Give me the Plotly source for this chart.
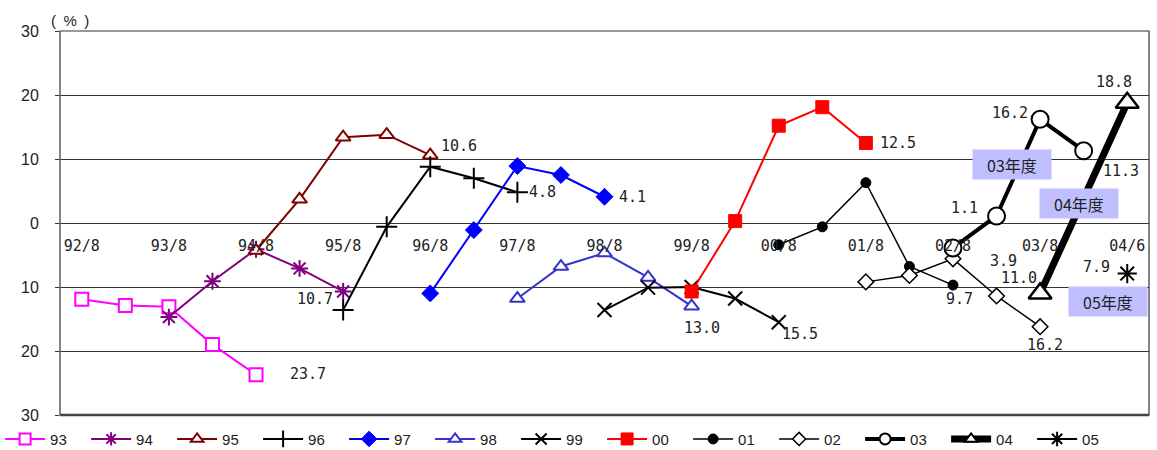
import plotly.graph_objects as go

# half-year periods on the x axis (tick labels every other period)
periods = ["92/8", "93/2", "93/8", "94/2", "94/8", "95/2", "95/8", "96/2", "96/8",
           "97/2", "97/8", "98/2", "98/8", "99/2", "99/8", "00/2", "00/8", "01/2",
           "01/8", "02/2", "02/8", "03/2", "03/8", "04/2", "04/6"]
tick_labels = periods[::2]
y_tick_vals = [-30, -20, -10, 0, 10, 20, 30]
y_tick_text = ["30", "20", "10", "0", "10", "20", "30"]

x93 = ["92/8", "93/2", "93/8", "94/2", "94/8"]
v93 = [-11.9, -12.9, -13.1, -19.0, -23.7]
x94 = ["93/8", "94/2", "94/8", "95/2", "95/8"]
v94 = [-14.7, -9.1, -4.1, -7.1, -10.7]
x95 = ["94/8", "95/2", "95/8", "96/2", "96/8"]
v95 = [-4.3, 3.7, 13.4, 13.8, 10.6]
x96 = ["95/8", "96/2", "96/8", "97/2", "97/8"]
v96 = [-13.6, -0.6, 8.8, 7.0, 4.8]
x97 = ["96/8", "97/2", "97/8", "98/2", "98/8"]
v97 = [-11.0, -1.1, 8.9, 7.5, 4.1]
x98 = ["97/8", "98/2", "98/8", "99/2", "99/8"]
v98 = [-11.8, -6.8, -4.7, -8.5, -13.0]
x99 = ["98/8", "99/2", "99/8", "00/2", "00/8"]
v99 = [-13.6, -10.1, -10.0, -11.8, -15.5]
x00 = ["99/8", "00/2", "00/8", "01/2", "01/8"]
v00 = [-10.7, 0.3, 15.2, 18.1, 12.5]
x01 = ["00/8", "01/2", "01/8", "02/2", "02/8"]
v01 = [-3.4, -0.6, 6.3, -6.8, -9.7]
x02 = ["01/8", "02/2", "02/8", "03/2", "03/8"]
v02 = [-9.2, -8.2, -5.6, -11.4, -16.2]
x03 = ["02/8", "03/2", "03/8", "04/2"]
v03 = [-3.9, 1.1, 16.2, 11.3]
x04 = ["03/8", "04/6"]
v04 = [-11.0, 18.8]
x05 = ["04/6"]
v05 = [-7.9]

year_boxes = ["03年度", "04年度", "05年度"]

idx = {p: i for i, p in enumerate(periods)}

fig = go.Figure()

def add(name, xs, vs, color, lw, symbol, size, fill, mlw, lsize):
    fig.add_trace(go.Scatter(
        x=[idx[p] for p in xs], y=vs, name=name, mode="lines+markers",
        line=dict(color=color, width=lw), showlegend=False,
        marker=dict(symbol=symbol, size=size, color=fill,
                    line=dict(color=color, width=mlw)),
        hoverinfo="skip"))
    # legend entry with smaller marker
    fig.add_trace(go.Scatter(
        x=[None], y=[None], name=name, mode="lines+markers",
        line=dict(color=color, width=lw),
        marker=dict(symbol=symbol, size=lsize, color=fill,
                    line=dict(color=color, width=min(mlw, 2))),
        hoverinfo="skip"))

add("93", x93, v93, "#FF00FF", 2, "square", 13, "white", 2, 11)
add("94", x94, v94, "#800080", 2, "asterisk-open", 14, "#800080", 2, 11)
add("95", x95, v95, "#800000", 2, "triangle-up", 13, "white", 2, 11)
add("96", x96, v96, "#000000", 2, "cross-thin-open", 15, "#000000", 2, 12)
add("97", x97, v97, "#0000FF", 2, "diamond", 13, "#0000FF", 1, 12)
add("98", x98, v98, "#3333CC", 2, "triangle-up", 13, "white", 2, 11)
add("99", x99, v99, "#000000", 2, "x-thin-open", 14, "#000000", 2, 11)
add("00", x00, v00, "#FF0000", 2, "square", 13, "#FF0000", 1, 12)
add("01", x01, v01, "#000000", 1.5, "circle", 10, "#000000", 1, 10)
add("02", x02, v02, "#000000", 1.5, "diamond", 12, "white", 1.5, 10)
add("03", x03, v03, "#000000", 4, "circle", 17, "white", 2, 11)
add("04", x04, v04, "#000000", 7, "triangle-up", 20, "white", 2.5, 11)
add("05", x05, v05, "#000000", 2, "asterisk-open", 16, "#000000", 2, 12)

lab_font = dict(family="DejaVu Sans Mono", size=15, color="#222222")

def lab(xs, vs, i, dx, dy):
    fig.add_annotation(x=idx[xs[i]], y=vs[i], text=f"{abs(vs[i]):.1f}",
                       showarrow=False, xshift=dx, yshift=dy, font=lab_font)

lab(x93, v93, 4, 52, 1)
lab(x94, v94, 4, -28, -8)
lab(x95, v95, 4, 29, 9)
lab(x96, v96, 4, 25, 0)
lab(x97, v97, 4, 28, 0)
lab(x98, v98, 4, 10, -22)
lab(x99, v99, 4, 21, -12)
lab(x00, v00, 4, 32, 0)
lab(x01, v01, 4, 7, -14)
lab(x02, v02, 4, 5, -18)
lab(x03, v03, 0, 51, -13)
lab(x03, v03, 1, -32, 8)
lab(x03, v03, 2, -30, 6)
lab(x03, v03, 3, 37, -20)
lab(x04, v04, 0, -21, 15)
lab(x04, v04, 1, -13, 21)
lab(x05, v05, 0, -31, 7)

box_pos = [(21.35, 9.2), (22.9, 3.1), (23.55, -12.3)]
for t, (bx, by) in zip(year_boxes, box_pos):
    fig.add_annotation(x=bx, y=by, text=t, showarrow=False, width=76, height=27,
                       bgcolor="#BFBFFF",
                       font=dict(family="Noto Sans CJK JP", size=16, color="#222222"))

fig.add_annotation(xref="paper", yref="paper", x=0.0092, y=1.0, yanchor="bottom",
                   xanchor="center", yshift=0, text="(\u2002%\u2002)", showarrow=False,
                   font=dict(family="Liberation Sans", size=15, color="#222222"))

# frame
fig.add_shape(type="rect", xref="x domain", yref="y domain", x0=0, x1=1, y0=0, y1=1,
              line=dict(color="#333333", width=1.2), layer="above")
fig.add_shape(type="line", xref="x domain", yref="y domain", x0=0, x1=1, y0=0, y1=0,
              line=dict(color="#444444", width=2.5), layer="above")

fig.update_layout(
    width=1157, height=450,
    margin=dict(l=60, r=8, t=31, b=35, autoexpand=False),
    plot_bgcolor="white", paper_bgcolor="white",
    showlegend=True,
    legend=dict(orientation="h", x=-0.055, xanchor="left", y=-0.02, yanchor="top",
                font=dict(family="Liberation Sans", size=15, color="#222222"),
                entrywidth=31, itemwidth=40, tracegroupgap=0, bgcolor="rgba(0,0,0,0)"),
    xaxis=dict(range=[-0.5, 24.5], tickvals=list(range(0, 25, 2)), ticktext=tick_labels,
               showgrid=False, zeroline=False, showline=False, ticks="",
               anchor="free", position=0.5, ticklabelstandoff=12,
               tickfont=dict(family="DejaVu Sans Mono", size=15, color="#222222")),
    yaxis=dict(range=[-30, 30], tickvals=y_tick_vals, ticktext=y_tick_text,
               showgrid=True, gridcolor="#333333", gridwidth=1,
               zeroline=True, zerolinecolor="#333333", zerolinewidth=1,
               showline=False, ticks="outside", ticklen=4, tickcolor="#333333",
               ticklabelstandoff=13,
               tickfont=dict(family="Liberation Sans", size=16, color="#222222")),
)

fig.write_html("out.html", config={"displayModeBar": False},
               post_script="document.body.style.margin='0px';")
